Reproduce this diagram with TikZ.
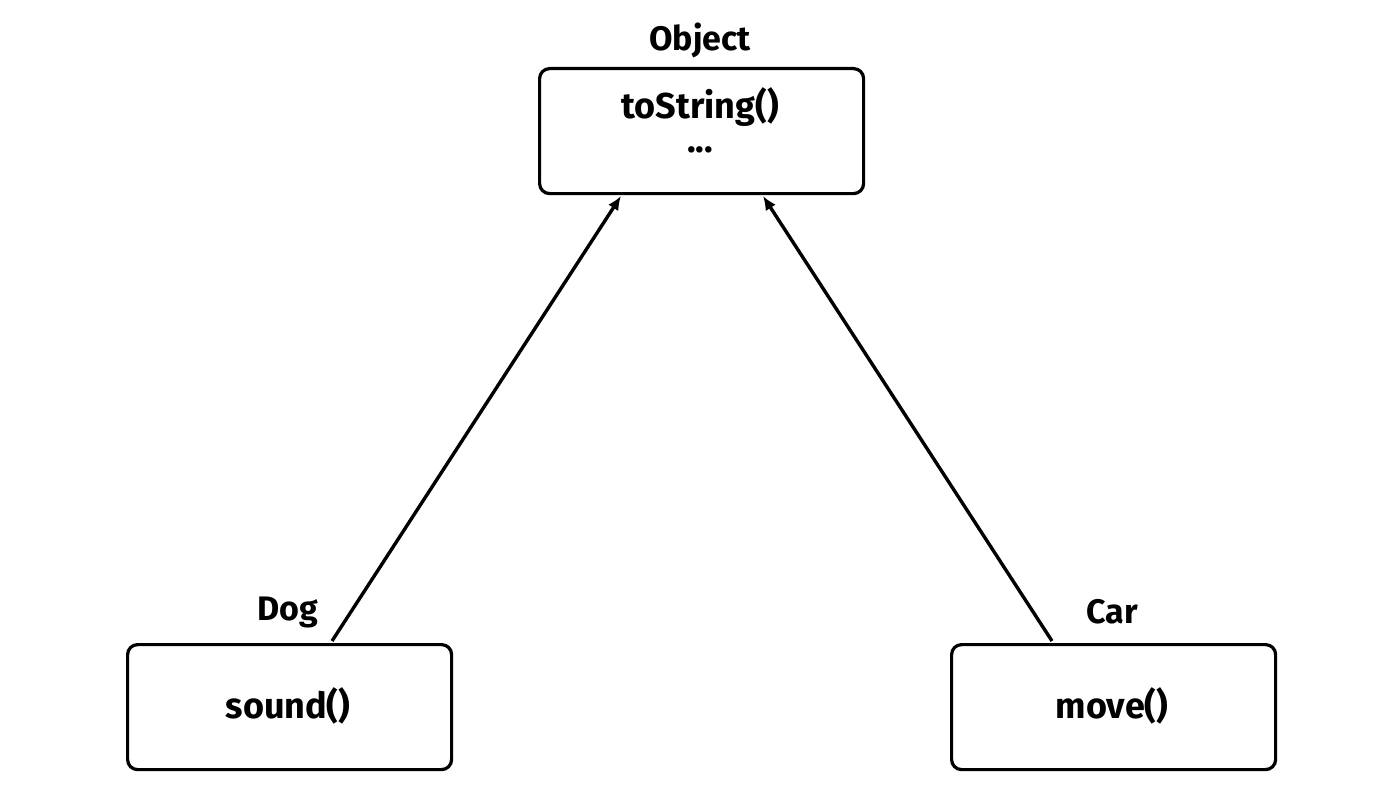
\documentclass[tikz,border=0pt]{standalone}
\usepackage{fontspec}
\setmainfont{Fira Sans}[BoldFont={Fira Sans Bold}]
\usetikzlibrary{arrows.meta}
\begin{document}
\begin{tikzpicture}[x=1pt,y=-1pt,
  cls/.style={draw,line width=3.2pt,rounded corners=10pt,minimum width=324pt,minimum height=125pt,inner sep=0pt,anchor=north west},
  lbl/.style={font=\bfseries\fontsize{34}{38}\selectfont,inner sep=0pt},
  txt/.style={font=\bfseries\fontsize{36}{40}\selectfont,inner sep=0pt},
  inh/.style={line width=3.4pt,-{Latex[length=14pt,width=12pt]}}]
\useasboundingbox (0,0) rectangle (1376,808);
\node[cls] (obj) at (538,67) {};
\node[cls] (dog) at (126,643) {};
\node[cls] (car) at (950,643) {};
\node[lbl] (objl) at (700,40) {Object};
\node[lbl] (dogl) at (288,612) {Dog};
\node[lbl] (carl) at (1112,612) {Car};
\node[txt] (objm) at (700,107) {toString()};
\node[txt,anchor=base] (objd) at (700,152) {...};
\node[txt] (dogm) at (288,706) {sound()};
\node[txt] (carm) at (1112,706) {move()};
\coordinate (dtop) at (332,641);
\coordinate (ctop) at (1052,641);
\coordinate (oa) at (621,196);
\coordinate (ob) at (763,196);
\draw[inh] (dtop) -- (oa);
\draw[inh] (ctop) -- (ob);
\end{tikzpicture}
\end{document}
